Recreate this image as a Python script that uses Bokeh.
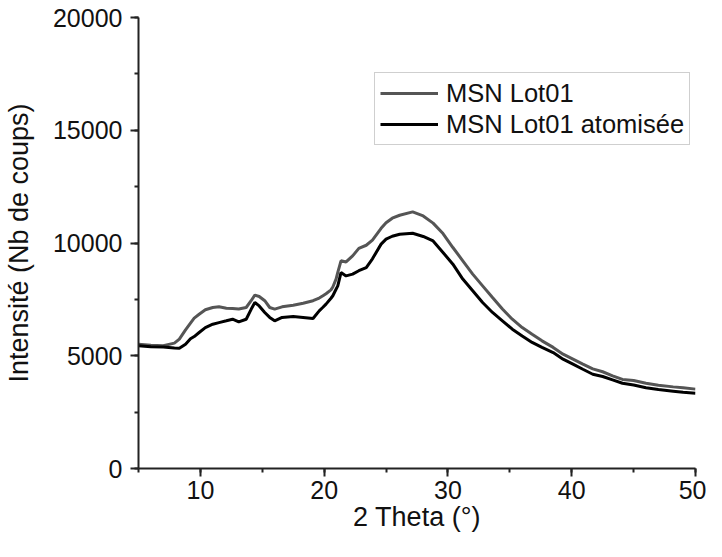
from bokeh.plotting import figure
from bokeh.models import Range1d, SingleIntervalTicker, Legend, LegendItem, ColumnDataSource
from bokeh.embed import file_html
from bokeh.resources import INLINE

# 2 Theta (deg)
two_theta = [5, 6, 7, 7.9, 8.3, 8.8, 9.2, 9.5, 9.9, 10.4, 11.0, 11.5, 12.1, 12.6, 13.1,
             13.7, 14.1, 14.4, 14.75, 15.2, 15.6, 16.0, 16.6, 17.5, 18.3, 19.1, 19.6,
             19.9, 20.15, 20.55, 20.7, 20.96, 21.1, 21.36, 21.77, 22.3, 22.8, 23.4,
             23.9, 24.6, 25.0, 25.5, 26.1, 27.15, 28.0, 28.8, 29.6, 30.4, 31.2, 32.0,
             32.8, 33.6, 34.4, 35.2, 36.0, 36.8, 37.6, 38.5, 39.3, 40.1, 40.9, 41.7,
             42.5, 43.3, 44.1, 45.0, 46.0, 47.0, 48.2, 49.0, 50.0]

# MSN Lot01 (grey)
msn_lot01 = [5510, 5470, 5440, 5560, 5740, 6150, 6450, 6670, 6840, 7040, 7140, 7170, 7110,
             7090, 7070, 7140, 7440, 7690, 7630, 7440, 7140, 7070, 7170, 7240, 7330, 7440,
             7560, 7660, 7750, 7920, 8050, 8400, 8700, 9210, 9160, 9430, 9760, 9900,
             10130, 10650, 10900, 11100, 11230, 11380, 11200, 10880, 10420, 9800, 9210,
             8620, 8100, 7580, 7070, 6620, 6250, 5950, 5660, 5370, 5070, 4850, 4630,
             4420, 4290, 4110, 3950, 3900, 3780, 3690, 3620, 3580, 3520]

# MSN Lot01 atomisee (black)
msn_lot01_atom = [5440, 5400, 5390, 5340, 5330, 5510, 5750, 5850, 6030, 6250, 6400, 6470,
                  6550, 6620, 6500, 6620, 7060, 7360, 7210, 6920, 6700, 6550, 6700, 6740,
                  6700, 6650, 6990, 7150, 7290, 7550, 7660, 7950, 8100, 8690, 8540, 8620,
                  8770, 8910, 9300, 9950, 10170, 10300, 10390, 10430, 10290, 10090, 9580,
                  9060, 8400, 7880, 7360, 6920, 6550, 6180, 5880, 5590, 5370, 5140, 4850,
                  4630, 4400, 4180, 4080, 3930, 3780, 3700, 3580, 3500, 3430, 3380, 3340]

series_names = ["MSN Lot01", "MSN Lot01 atomisée"]

FONT = "Liberation Sans"

p = figure(width=706, height=541, output_backend="svg", toolbar_location=None,
           x_range=Range1d(5, 50), y_range=Range1d(0, 20000),
           x_axis_label="2 Theta (°)", y_axis_label="Intensité (Nb de coups)")
p.min_border_left = 138
p.min_border_right = 11
p.min_border_top = 17
p.min_border_bottom = 73
p.outline_line_color = None
p.xgrid.visible = False
p.ygrid.visible = False
p.background_fill_color = "white"
p.border_fill_color = "white"

src = ColumnDataSource(dict(x=two_theta, a=msn_lot01, b=msn_lot01_atom))
r1 = p.line("x", "a", source=src, line_color="#555555", line_width=3)
r2 = p.line("x", "b", source=src, line_color="#000000", line_width=3)

p.xaxis.ticker = SingleIntervalTicker(interval=10, num_minor_ticks=2)
p.yaxis.ticker = SingleIntervalTicker(interval=5000, num_minor_ticks=2)

for ax in (p.xaxis, p.yaxis):
    ax.axis_line_color = "#222222"
    ax.axis_line_width = 2
    ax.major_tick_line_color = "#222222"
    ax.major_tick_line_width = 2
    ax.minor_tick_line_color = "#222222"
    ax.minor_tick_line_width = 2
    ax.major_tick_out = 8
    ax.major_tick_in = 0
    ax.minor_tick_out = 4
    ax.minor_tick_in = 0
    ax.major_label_text_font = FONT
    ax.major_label_text_font_size = "25px"
    ax.major_label_text_color = "#111111"
    ax.axis_label_text_font = FONT
    ax.axis_label_text_font_size = "27px"
    ax.axis_label_text_font_style = "normal"
    ax.axis_label_text_color = "#111111"

p.yaxis.major_label_standoff = 8
p.yaxis.axis_label_standoff = 16
p.xaxis.major_label_standoff = 4
p.xaxis.axis_label_standoff = 0

legend = Legend(items=[LegendItem(label=series_names[0], renderers=[r1]),
                       LegendItem(label=series_names[1], renderers=[r2])],
                location=(236, 323))
legend.label_text_font = FONT
legend.label_text_font_size = "25.5px"
legend.label_text_color = "#111111"
legend.glyph_width = 58
legend.glyph_height = 30
legend.label_height = 30
legend.label_standoff = 8
legend.padding = 5
legend.spacing = 1
legend.margin = 0
legend.border_line_color = "#a0a0a0"
legend.border_line_width = 1
legend.background_fill_alpha = 1.0
p.add_layout(legend, "center")

open("out.html", "w").write(file_html(p, INLINE))
